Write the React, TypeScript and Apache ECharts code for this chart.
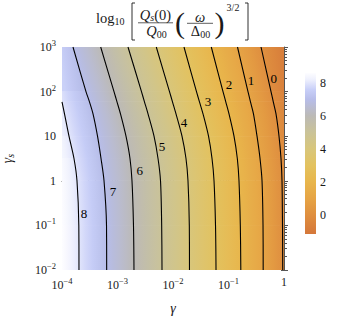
import React, { useEffect, useRef } from 'react';
import * as echarts from 'echarts';

// rows of log10(gamma_s) at which the contour crossings were read
const ROWS = [3, 2, 1.77, 1.5, 1, 0.5, 0, -1, -2];
const LEVELS = [8, 7, 6, 5, 4, 3, 2, 1, 0];
// log10(gamma) of each contour at each row (null = contour not present)
const C8 = [null, null, -4.0, -3.955, -3.874, -3.784, -3.73, -3.697, -3.694];
const C7 = [-3.802, -3.568, -3.505, -3.441, -3.36, -3.297, -3.243, -3.198, -3.195];
const C6 = [-3.303, -3.063, -3.009, -2.946, -2.847, -2.775, -2.739, -2.712, -2.703];
const C5 = [-2.811, -2.568, -2.514, -2.45, -2.342, -2.27, -2.225, -2.204, -2.198];
const C4 = [-2.301, -2.063, -2.009, -1.946, -1.838, -1.766, -1.73, -1.706, -1.703];
const C3 = [-1.802, -1.577, -1.523, -1.459, -1.36, -1.297, -1.261, -1.234, -1.225];
const C2 = [-1.31, -1.099, -1.049, -0.991, -0.901, -0.841, -0.811, -0.787, -0.778];
const C1 = [-0.838, -0.649, -0.604, -0.55, -0.486, -0.432, -0.396, -0.378, -0.375];
const C0 = [-0.414, -0.234, -0.193, -0.144, -0.09, -0.054, -0.036, -0.027, -0.023];
const CONTOURS: (number | null)[][] = [C8, C7, C6, C5, C4, C3, C2, C1, C0];
// field value at the left (gamma=1e-4) and right (gamma=1) edges of each row
const LEFT_EDGE = [7.4, 7.86, 8.0, 8.09, 8.25, 8.44, 8.56, 8.6, 8.61];
const RIGHT_EDGE = [-0.98, -0.57, -0.47, -0.36, -0.23, -0.14, -0.1, -0.077, -0.067];
// contour labels: [log10 gamma, log10 gamma_s, level]
const LABELS = [
  [-3.604, -0.744, 8],
  [-3.081, -0.251, 7],
  [-2.6, 0.242, 6],
  [-2.198, 0.758, 5],
  [-1.802, 1.318, 4],
  [-1.369, 1.789, 3],
  [-0.991, 2.148, 2],
  [-0.595, 2.238, 1],
  [-0.186, 2.283, 0],
];
// colour map
const CMAP_VALUES = [-1.15, 0, 1, 2, 3, 4, 5, 6, 7, 7.6, 8.2, 8.6];
const CMAP_COLORS = ['#d5773a', '#df8f3f', '#e6a445', '#e8b64c', '#e3c25f', '#d8c67b', '#cac398', '#bcbab6', '#b7bde9', '#c8cff8', '#eef0fd', '#fdfdff'];
const CBAR_MIN = -1.15;
const CBAR_MAX = 8.6;
const CBAR_TICKS = [0, 2, 4, 6, 8];
const X_TICKS = [-4, -3, -2, -1, 0];
const Y_TICKS = [-2, -1, 0, 1, 2, 3];

const FONT = "'Liberation Serif', 'DejaVu Serif', serif";
const INK = '#1a1a1a';
const AXIS = '#555';

function minorTicks(from: number, to: number) {
  const out: number[] = [];
  for (let n = from; n < to; n++) for (let k = 2; k <= 9; k++) out.push(n + Math.log10(k));
  return out;
}

function hexToRgb(h: string) {
  const n = parseInt(h.slice(1), 16);
  return [(n >> 16) & 255, (n >> 8) & 255, n & 255];
}
function cmap(v: number) {
  if (v <= CMAP_VALUES[0]) return CMAP_COLORS[0];
  for (let i = 0; i < CMAP_VALUES.length - 1; i++) {
    if (v <= CMAP_VALUES[i + 1]) {
      const t = (v - CMAP_VALUES[i]) / (CMAP_VALUES[i + 1] - CMAP_VALUES[i]);
      const a = hexToRgb(CMAP_COLORS[i]);
      const b = hexToRgb(CMAP_COLORS[i + 1]);
      const c = a.map((x, j) => Math.round(x + (b[j] - x) * t));
      return `rgb(${c[0]},${c[1]},${c[2]})`;
    }
  }
  return CMAP_COLORS[CMAP_COLORS.length - 1];
}

function powLabel(v: number) {
  const n = Math.round(v);
  if (n === 0) return '{b|1}';
  if (n === 1) return '{b|10}';
  return `{b|10}{s|${n < 0 ? '\u2212' + -n : n}}`;
}
const tickRich = {
  b: { fontFamily: FONT, fontSize: 12, color: INK },
  s: { fontFamily: FONT, fontSize: 8.5, color: INK, padding: [0, 0, 8, 0] },
};

function stopsAt(r: number) {
  const arr = [{ x: -4, v: LEFT_EDGE[r] }];
  CONTOURS.forEach((c, i) => {
    const x = c[r];
    if (x === null) arr.push({ x: -4, v: LEFT_EDGE[r] });
    else arr.push({ x, v: LEVELS[i] });
  });
  arr.push({ x: 0, v: RIGHT_EDGE[r] });
  return arr;
}

function renderField(_params: any, api: any) {
  const children: any[] = [];
  const sub = (a: number[], b: number[]) => [a[0] - b[0], a[1] - b[1]];
  const norm = (a: number[]) => {
    const l = Math.hypot(a[0], a[1]) || 1;
    return [a[0] / l, a[1] / l];
  };
  for (let r = 0; r < ROWS.length - 1; r++) {
    const top = stopsAt(r);
    const bot = stopsAt(r + 1);
    for (let j = 0; j < top.length - 1; j++) {
      const TL = api.coord([top[j].x, ROWS[r]]);
      const TR = api.coord([top[j + 1].x, ROWS[r]]);
      const BR = api.coord([bot[j + 1].x, ROWS[r + 1]]);
      const BL = api.coord([bot[j].x, ROWS[r + 1]]);
      if (TR[0] - TL[0] < 0.01 && BR[0] - BL[0] < 0.01) continue;
      const vL = (top[j].v + bot[j].v) / 2;
      const vR = (top[j + 1].v + bot[j + 1].v) / 2;
      const dL = norm(sub(BL, TL));
      const dR = norm(sub(BR, TR));
      const d = norm([dL[0] + dR[0], dL[1] + dR[1]]);
      const n = [d[1], -d[0]];
      const ML = [(TL[0] + BL[0]) / 2, (TL[1] + BL[1]) / 2];
      const MR = [(TR[0] + BR[0]) / 2, (TR[1] + BR[1]) / 2];
      let dist = (MR[0] - ML[0]) * n[0] + (MR[1] - ML[1]) * n[1];
      if (Math.abs(dist) < 0.5) dist = 0.5;
      const P2 = [ML[0] + n[0] * dist, ML[1] + n[1] * dist];
      const stops = [0, 0.25, 0.5, 0.75, 1].map((f) => ({ offset: f, color: cmap(vL + f * (vR - vL)) }));
      const grad = new echarts.graphic.LinearGradient(ML[0], ML[1], P2[0], P2[1], stops, true);
      children.push({
        type: 'polygon',
        shape: { points: [TL, TR, BR, BL] },
        style: { fill: grad, stroke: grad, lineWidth: 0.8 },
      });
    }
  }
  return { type: 'group', children };
}

function renderBar(_params: any, api: any) {
  const p0 = api.coord([0, CBAR_MAX]);
  const p1 = api.coord([1, CBAR_MIN]);
  const stops = [] as any[];
  for (let i = CMAP_VALUES.length - 1; i >= 0; i--) {
    const v = Math.min(Math.max(CMAP_VALUES[i], CBAR_MIN), CBAR_MAX);
    stops.push({ offset: (CBAR_MAX - v) / (CBAR_MAX - CBAR_MIN), color: CMAP_COLORS[i] });
  }
  return {
    type: 'rect',
    shape: { x: p0[0], y: p0[1], width: p1[0] - p0[0], height: p1[1] - p0[1] },
    style: { fill: new echarts.graphic.LinearGradient(0, 0, 0, 1, stops) },
  };
}

function renderLabels(_params: any, api: any) {
  const p = api.coord([api.value(0), api.value(1)]);
  return {
    type: 'text',
    x: p[0],
    y: p[1],
    style: {
      text: String(api.value(2)),
      fontFamily: FONT,
      fontSize: 13,
      fill: '#000',
      align: 'center',
      verticalAlign: 'middle',
    },
  };
}

function buildOption(): any {
  const mainAxisCommon = { gridIndex: 0, type: 'value', splitLine: { show: false } };
  const contourSeries = CONTOURS.map((c) => ({
    type: 'line',
    xAxisIndex: 0,
    yAxisIndex: 0,
    data: ROWS.map((y, i) => (c[i] === null ? null : [c[i], y])).filter((p) => p !== null),
    showSymbol: false,
    smooth: 0.3,
    lineStyle: { color: '#000', width: 1.1 },
    z: 5,
    silent: true,
  }));
  const T = 14.5;
  const S = 10;
  return {
    animation: false,
    grid: [
      { left: 62, top: 47, width: 222, height: 223, containLabel: false, outerBoundsMode: 'none' },
      { left: 305, top: 73, width: 11, height: 161, containLabel: false, outerBoundsMode: 'none' },
    ],
    xAxis: [
      {
        ...mainAxisCommon,
        min: -4,
        max: 0,
        interval: 1,
        axisLine: { lineStyle: { color: AXIS, width: 1 } },
        axisTick: { inside: false, length: 3, lineStyle: { color: AXIS } },
        axisLabel: { formatter: powLabel, rich: tickRich, margin: 6 },
        name: 'γ',
        nameLocation: 'middle',
        nameGap: 31,
        nameTextStyle: { fontFamily: FONT, fontStyle: 'italic', fontSize: 14, color: INK },
      },
      {
        ...mainAxisCommon,
        min: -4,
        max: 0,
        position: 'bottom',
        axisLine: { show: false },
        axisLabel: { show: false },
        axisTick: { inside: true, length: 3, customValues: minorTicks(-4, 0), lineStyle: { color: AXIS } },
      },
      {
        ...mainAxisCommon,
        min: -4,
        max: 0,
        position: 'bottom',
        axisLine: { show: false },
        axisLabel: { show: false },
        axisTick: { inside: true, length: 4, customValues: X_TICKS, lineStyle: { color: AXIS } },
      },
      { gridIndex: 1, type: 'value', min: 0, max: 1, show: false },
    ],
    yAxis: [
      {
        ...mainAxisCommon,
        min: -2,
        max: 3,
        interval: 1,
        axisLine: { show: true, lineStyle: { color: AXIS, width: 1 } },
        axisTick: { show: true, inside: false, length: 3, lineStyle: { color: AXIS } },
        axisLabel: { formatter: powLabel, rich: tickRich, margin: 6 },
        name: '{g|γ}{s|s}',
        nameLocation: 'middle',
        nameGap: 47,
        nameRotate: 90,
        nameTextStyle: {
          rich: {
            g: { fontFamily: FONT, fontStyle: 'italic', fontSize: 14, color: INK },
            s: { fontFamily: FONT, fontStyle: 'italic', fontSize: 10, color: INK, padding: [5, 0, 0, 0] },
          },
        },
      },
      {
        ...mainAxisCommon,
        min: -2,
        max: 3,
        position: 'left',
        axisLine: { show: false },
        axisLabel: { show: false },
        axisTick: { show: true, inside: true, length: 3, customValues: minorTicks(-2, 3), lineStyle: { color: AXIS } },
      },
      {
        ...mainAxisCommon,
        min: -2,
        max: 3,
        position: 'left',
        axisLine: { show: false },
        axisLabel: { show: false },
        axisTick: { show: true, inside: true, length: 4, customValues: Y_TICKS, lineStyle: { color: AXIS } },
      },
      {
        gridIndex: 1,
        type: 'value',
        min: CBAR_MIN,
        max: CBAR_MAX,
        position: 'right',
        splitLine: { show: false },
        axisLine: { show: false },
        axisTick: { show: true, length: 4, customValues: CBAR_TICKS, lineStyle: { color: AXIS } },
        axisLabel: { customValues: CBAR_TICKS, margin: 4, fontFamily: FONT, fontSize: 12, color: INK },
      },
    ],
    series: [
      {
        type: 'custom',
        xAxisIndex: 0,
        yAxisIndex: 0,
        renderItem: renderField,
        data: [[0, 0]],
        clip: true,
        z: 1,
        silent: true,
      },
      ...contourSeries,
      {
        type: 'custom',
        xAxisIndex: 0,
        yAxisIndex: 0,
        renderItem: renderLabels,
        data: LABELS,
        z: 6,
        silent: true,
      },
      {
        type: 'custom',
        xAxisIndex: 3,
        yAxisIndex: 3,
        renderItem: renderBar,
        data: [[0, 0]],
        silent: true,
      },
    ],
    graphic: [
      {
        type: 'group',
        silent: true,
        children: [
          {
            type: 'text', x: 96, y: 18,
            style: {
              text: '{a|log}{b|10}', verticalAlign: 'middle',
              rich: {
                a: { fontFamily: FONT, fontSize: T, fill: INK },
                b: { fontFamily: FONT, fontSize: S, fill: INK, padding: [7, 0, 0, 0] },
              },
            },
          },
          { type: 'polyline', shape: { points: [[135, 3], [132, 3], [132, 40], [135, 40]] }, style: { stroke: INK, lineWidth: 0.9, fill: null } },
          {
            type: 'text', x: 155.5, y: 14.5,
            style: {
              text: '{i|Q}{sub|s}{r|(0)}', align: 'center', verticalAlign: 'middle',
              rich: {
                i: { fontFamily: FONT, fontStyle: 'italic', fontSize: T, fill: INK },
                sub: { fontFamily: FONT, fontStyle: 'italic', fontSize: S, fill: INK, padding: [6, 0, 0, 0] },
                r: { fontFamily: FONT, fontSize: T, fill: INK },
              },
            },
          },
          { type: 'line', shape: { x1: 138, y1: 22.8, x2: 173, y2: 22.8 }, style: { stroke: INK, lineWidth: 0.7 } },
          {
            type: 'text', x: 156.5, y: 31,
            style: {
              text: '{i|Q}{sub|00}', align: 'center', verticalAlign: 'middle',
              rich: {
                i: { fontFamily: FONT, fontStyle: 'italic', fontSize: T, fill: INK },
                sub: { fontFamily: FONT, fontSize: S, fill: INK, padding: [6, 0, 0, 0] },
              },
            },
          },
          { type: 'text', x: 180, y: 22, style: { text: '(', fontFamily: FONT, fontSize: 30, fill: INK, align: 'center', verticalAlign: 'middle' } },
          { type: 'text', x: 200, y: 16.5, style: { text: 'ω', fontFamily: FONT, fontStyle: 'italic', fontSize: T, fill: INK, align: 'center', verticalAlign: 'middle' } },
          { type: 'line', shape: { x1: 187, y1: 23.3, x2: 213, y2: 23.3 }, style: { stroke: INK, lineWidth: 0.7 } },
          {
            type: 'text', x: 200.5, y: 31,
            style: {
              text: '{r|Δ}{sub|00}', align: 'center', verticalAlign: 'middle',
              rich: {
                r: { fontFamily: FONT, fontSize: T, fill: INK },
                sub: { fontFamily: FONT, fontSize: S, fill: INK, padding: [6, 0, 0, 0] },
              },
            },
          },
          { type: 'text', x: 219.5, y: 22, style: { text: ')', fontFamily: FONT, fontSize: 30, fill: INK, align: 'center', verticalAlign: 'middle' } },
          { type: 'text', x: 233, y: 7, style: { text: '3/2', fontFamily: FONT, fontSize: S, fill: INK, align: 'center', verticalAlign: 'middle' } },
          { type: 'polyline', shape: { points: [[245, 3], [248, 3], [248, 40], [245, 40]] }, style: { stroke: INK, lineWidth: 0.9, fill: null } },
        ],
      },
    ],
  };
}

export default function App() {
  const ref = useRef<HTMLDivElement>(null);
  useEffect(() => {
    document.body.style.margin = '0';
    const chart = echarts.init(ref.current!, null, { renderer: 'svg' });
    chart.setOption(buildOption());
    return () => chart.dispose();
  }, []);
  return <div ref={ref} style={{ width: 337, height: 321 }} />;
}
